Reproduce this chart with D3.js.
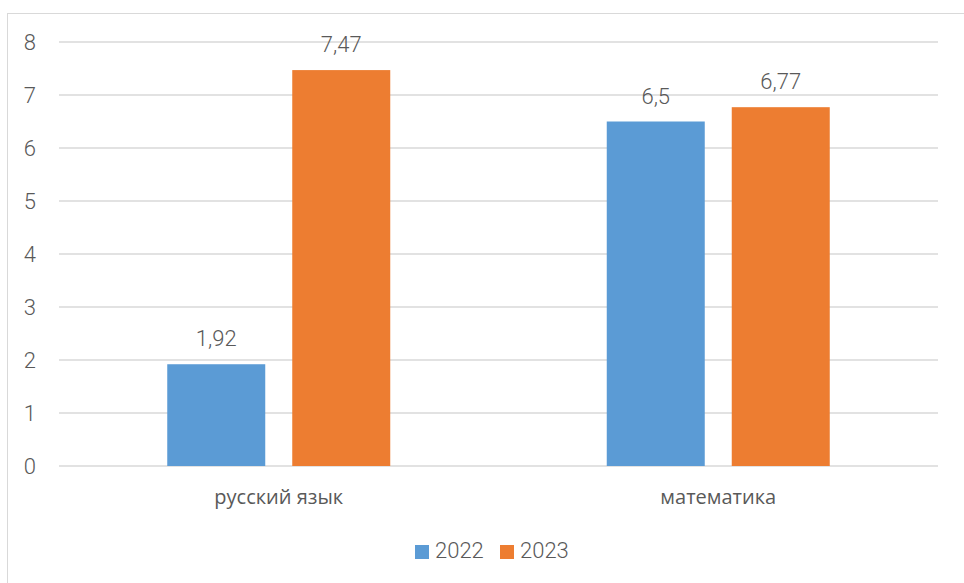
<!DOCTYPE html>
<html><head><meta charset="utf-8">
<script src="https://cdn.jsdelivr.net/npm/d3@7"></script>
<style>
html,body{margin:0;padding:0;background:#fff;}
svg{display:block;}
text{fill:#595959;}
</style></head>
<body>
<svg id="chart" width="964" height="583"></svg>
<script>
const categories = ["русский язык", "математика"];
const seriesNames = ["2022", "2023"];
const values2022 = [1.92, 6.5];
const values2023 = [7.47, 6.77];
const labels2022 = ["1,92", "6,5"];
const labels2023 = ["7,47", "6,77"];
const yTicks = [0, 1, 2, 3, 4, 5, 6, 7, 8];
const colors = ["#5B9BD5", "#ED7D31"];

const numFont = "Roboto, 'Liberation Sans', sans-serif";
const catFont = "'Open Sans', 'Noto Sans', sans-serif";

const svg = d3.select("#chart");
const plot = {left: 59, right: 938, top: 42, bottom: 466};

svg.append("rect").attr("x", 7.5).attr("y", 13.5).attr("width", 1000).attr("height", 1000)
  .attr("fill", "#fff").attr("stroke", "#d9d9d9").attr("stroke-width", 1);

const y = d3.scaleLinear().domain([0, 8]).range([plot.bottom, plot.top]);
const x0 = d3.scaleBand().domain(categories).range([plot.left, plot.right]).paddingInner(0).paddingOuter(0);
const groupW = 223;
const x1 = d3.scaleBand().domain(seriesNames).range([0, groupW]).paddingInner(0.216).paddingOuter(0);

svg.append("g").selectAll("line").data(yTicks).join("line")
  .attr("x1", plot.left).attr("x2", plot.right)
  .attr("y1", d => y(d)).attr("y2", d => y(d))
  .attr("stroke", "#d9d9d9").attr("stroke-width", 1.3);

svg.append("g").selectAll("text").data(yTicks).join("text")
  .attr("x", 36).attr("y", d => y(d) + 8)
  .attr("text-anchor", "end")
  .style("font-family", numFont).style("font-size", "22px").style("font-weight", 300)
  .text(d => d);

const rows = [];
categories.forEach((c, i) => {
  rows.push({cat: c, s: "2022", v: values2022[i], lbl: labels2022[i], col: colors[0]});
  rows.push({cat: c, s: "2023", v: values2023[i], lbl: labels2023[i], col: colors[1]});
});
const bx = d => x0(d.cat) + (x0.bandwidth() - groupW) / 2 + x1(d.s);

svg.append("g").selectAll("rect").data(rows).join("rect")
  .attr("x", bx).attr("width", x1.bandwidth())
  .attr("y", d => y(d.v)).attr("height", d => y(0) - y(d.v))
  .attr("fill", d => d.col);

svg.append("g").selectAll("text").data(rows).join("text")
  .attr("x", d => bx(d) + x1.bandwidth() / 2)
  .attr("y", d => y(d.v) - 18)
  .attr("text-anchor", "middle")
  .style("font-family", numFont).style("font-size", "22px").style("font-weight", 300)
  .text(d => d.lbl);

svg.append("g").selectAll("text").data(categories).join("text")
  .attr("x", d => x0(d) + x0.bandwidth() / 2)
  .attr("y", 504)
  .attr("text-anchor", "middle")
  .style("font-family", catFont).style("font-size", "20px")
  .text(d => d);

const leg = svg.append("g");
const legX = [415, 500];
seriesNames.forEach((s, i) => {
  leg.append("rect").attr("x", legX[i]).attr("y", 545).attr("width", 14).attr("height", 14).attr("fill", colors[i]);
  leg.append("text").attr("x", legX[i] + 20).attr("y", 557.5)
    .style("font-family", numFont).style("font-size", "22px").style("font-weight", 300).text(s);
});
</script>
</body></html>
